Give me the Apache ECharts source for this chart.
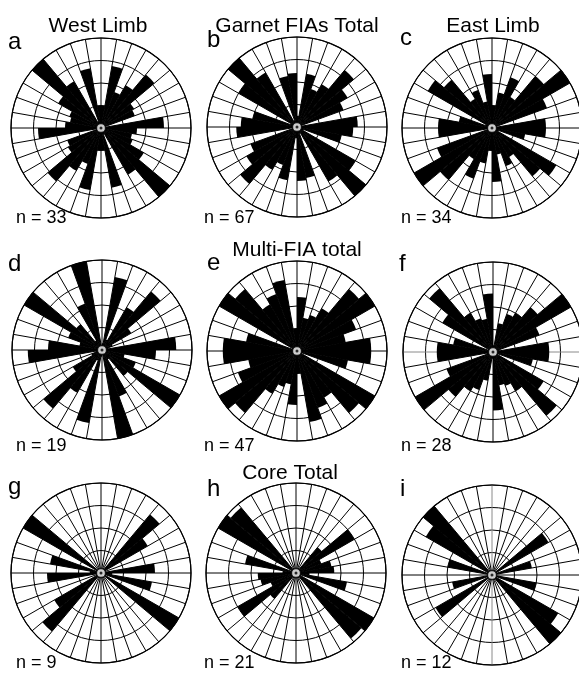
<!DOCTYPE html>
<html>
<head>
<meta charset="utf-8">
<script src="https://cdn.jsdelivr.net/npm/echarts@6/dist/echarts.min.js"></script>
<style>
  html, body { margin: 0; padding: 0; background: #ffffff; }
  #chart { width: 579px; height: 677px; }
</style>
</head>
<body>
<div id="chart"></div>
<script>
// 10-degree azimuth sectors, clockwise from north
const sectorLabels = ['0','10','20','30','40','50','60','70','80','90','100','110','120','130','140','150','160','170',
                      '180','190','200','210','220','230','240','250','260','270','280','290','300','310','320','330','340','350'];

// Axial FIA trends: bar length for sectors 0-180 (ring units, 4 rings)
const westLimbGarnet = [1.0, 2.8, 1.7, 2.2, 3.1, 1.7, 1.6, 0.0, 2.8, 1.6, 1.4, 1.5, 2.2, 4.0, 2.4, 0.3, 2.7, 1.0];
const garnetTotal    = [0.5, 2.4, 1.8, 2.2, 3.3, 2.6, 2.2, 0.2, 2.7, 2.5, 2.0, 0.3, 3.0, 4.0, 2.8, 0.3, 2.3, 2.4];
const eastLimbGarnet = [1.0, 1.6, 2.4, 1.6, 3.0, 4.0, 2.6, 0.2, 2.4, 2.4, 1.5, 0.3, 3.3, 2.8, 1.5, 1.8, 1.2, 2.4];
const westLimbMulti  = [0.3, 3.3, 0.5, 2.2, 3.4, 1.5, 0.5, 0.3, 3.3, 2.4, 1.0, 1.6, 4.0, 1.5, 0.5, 2.2, 4.0, 0.0];
const multiTotal     = [2.4, 1.5, 1.7, 2.2, 3.6, 4.0, 2.8, 2.2, 3.3, 3.3, 2.3, 0.2, 4.0, 3.6, 2.4, 2.7, 3.2, 1.0];
const eastLimbMulti  = [0.3, 1.3, 1.8, 2.0, 2.6, 4.0, 2.2, 0.3, 2.5, 2.5, 1.8, 0.2, 2.6, 3.7, 2.0, 1.6, 1.5, 2.6];
const westLimbCore   = [0, 0, 0, 0, 3.4, 2.4, 0, 0, 2.4, 0.5, 2.3, 0, 4.0, 0, 0, 0, 0, 0];
const coreTotal      = [0, 0, 0, 0, 1.5, 3.0, 1.2, 1.6, 1.7, 0.6, 2.3, 0, 4.0, 3.8, 0, 0, 0, 0];
const eastLimbCore   = [0, 0, 0, 0, 0, 2.9, 0, 1.8, 0, 0, 2.0, 0, 3.4, 4.0, 0, 0, 0, 0];

const panelLetters = ['a','b','c','d','e','f','g','h','i'];
const panelCounts  = [33, 67, 34, 19, 47, 28, 9, 21, 12];
const columnTitles = ['West Limb', 'Garnet FIAs Total', 'East Limb'];
const rowTitles    = ['Multi-FIA total', 'Core Total'];
const panelData = [westLimbGarnet, garnetTotal, eastLimbGarnet,
                   westLimbMulti, multiTotal, eastLimbMulti,
                   westLimbCore, coreTotal, eastLimbCore];

// layout
const centers = [[101,128],[297,127],[492,128],
                 [102,350],[297,351],[493,352],
                 [101,573],[296,573],[492,575]];
const roseRadius = 90;
const letterPos = [[8,44],[207,42],[400,40],[8,266],[207,265],[399,266],[8,489],[207,491],[400,491]];
const countPos  = [[16,215],[204,215],[401,215],[16,443],[204,443],[401,443],[16,660],[204,660],[401,660]];
const columnTitlePos = [[98,26],[297,26],[493,26]];
const rowTitlePos    = [[297,250],[290,473]];

// split lines drawn grey in some roses (index 0 = N-S line, 9 = E-W line)
const greyLines = [[], [], [], [], [], [9, 27], [], [], [0, 18]];

const font = '"Liberation Sans", Arial, Helvetica, sans-serif';

const polar = [], angleAxis = [], radiusAxis = [], series = [], graphic = [];

panelData.forEach((half, i) => {
  // axial data: each trend plots in both opposite sectors
  const full = half.concat(half);
  const lineColors = sectorLabels.map((_, k) => greyLines[i].indexOf(k) >= 0 ? '#8a8a8a' : '#000');
  polar.push({ center: centers[i], radius: roseRadius });
  angleAxis.push({
    polarIndex: i, type: 'category', data: sectorLabels, boundaryGap: true,
    startAngle: 90, clockwise: true, z: 1,
    axisLine: { show: true, lineStyle: { color: '#000', width: 1.2 } },
    axisTick: { show: false },
    axisLabel: { show: false, interval: 0 },
    splitLine: { show: true, interval: 0, lineStyle: { color: lineColors, width: 1 } }
  });
  radiusAxis.push({
    polarIndex: i, type: 'value', min: 0, max: 4, interval: 1, z: 1,
    axisLine: { show: false }, axisTick: { show: false }, axisLabel: { show: false },
    splitLine: { show: true, lineStyle: { color: '#000', width: 1 } }
  });
  series.push({
    type: 'bar', coordinateSystem: 'polar', polarIndex: i, data: full,
    barCategoryGap: '0%', barGap: '0%', itemStyle: { color: '#000' },
    silent: true, z: 2
  });
  // centre marker
  series.push({
    type: 'scatter', coordinateSystem: 'polar', polarIndex: i, data: [[0, 0]],
    symbol: 'circle', symbolSize: 9, silent: true, z: 5,
    itemStyle: { color: '#fff', borderColor: '#000', borderWidth: 1.3 }
  });
  series.push({
    type: 'scatter', coordinateSystem: 'polar', polarIndex: i, data: [[0, 0]],
    symbol: 'circle', symbolSize: 3, silent: true, z: 6,
    itemStyle: { color: '#000' }
  });

  graphic.push({
    type: 'text', left: letterPos[i][0], top: letterPos[i][1] - 14,
    style: { text: panelLetters[i], font: '24px ' + font, fill: '#000' }
  });
  graphic.push({
    type: 'text', left: countPos[i][0], top: countPos[i][1] - 6,
    style: { text: 'n = ' + panelCounts[i], font: '18px ' + font, fill: '#000' }
  });
});

columnTitles.forEach((t, k) => {
  graphic.push({
    type: 'text', x: columnTitlePos[k][0], y: columnTitlePos[k][1],
    style: { text: t, font: '21px ' + font, fill: '#000', textAlign: 'center', textVerticalAlign: 'middle' }
  });
});
rowTitles.forEach((t, k) => {
  graphic.push({
    type: 'text', x: rowTitlePos[k][0], y: rowTitlePos[k][1],
    style: { text: t, font: '21px ' + font, fill: '#000', textAlign: 'center', textVerticalAlign: 'middle' }
  });
});

const chart = echarts.init(document.getElementById('chart'));
chart.setOption({
  animation: false,
  backgroundColor: '#fff',
  polar: polar,
  angleAxis: angleAxis,
  radiusAxis: radiusAxis,
  series: series,
  graphic: graphic
});
</script>
</body>
</html>
